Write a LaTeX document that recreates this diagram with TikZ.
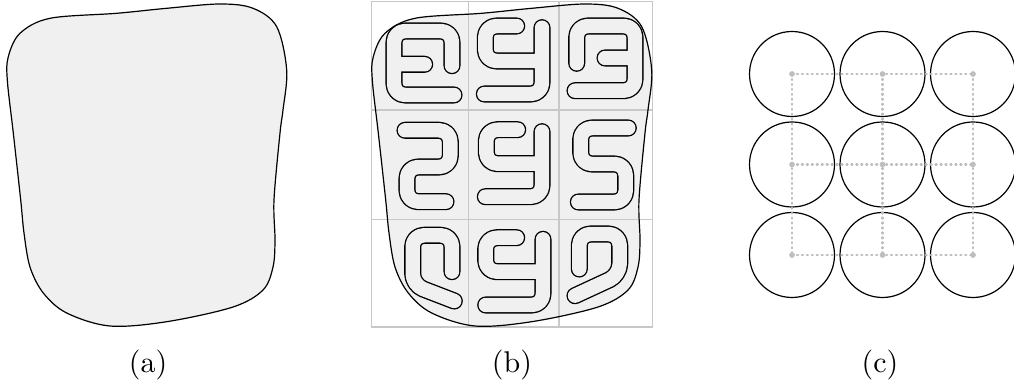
\documentclass[tikz,border=0pt]{standalone}
\usepackage{tikz}
\usetikzlibrary{positioning}
\definecolor{blobgray}{HTML}{F0F0F0}
\definecolor{gridgray}{HTML}{C8C8C8}
\definecolor{dotgray}{HTML}{BEBEBE}
\tikzset{
  blob/.style={draw=black,fill=blobgray,line width=0.4pt},
  blobedge/.style={draw=black,line width=0.4pt},
  gridline/.style={draw=gridgray,line width=0.4pt},
  bandout/.style={draw=black,line width=5.7pt,line cap=round,line join=round,
                  rounded corners=3.7pt},
  bandin/.style={draw=blobgray,line width=4.8pt,line cap=round,line join=round,
                 rounded corners=3.7pt},
  ring/.style={draw=black,circle,line width=0.4pt,minimum size=28.33pt,
               inner sep=0pt},
  dotline/.style={draw=dotgray,line width=0.75pt,line cap=round,
                  dash pattern=on 0.35pt off 1.3pt},
  hub/.style={fill=dotgray,circle,inner sep=0pt,minimum size=1.9pt},
  caption/.style={anchor=base}
}
\newcommand{\blobpath}{plot[smooth cycle,tension=0.55] coordinates {
  (8.3,56.7) (20,33.3) (50,18.3) (116.7,13.3) (166.7,8.3) (220,4)
  (253,8.3) (276.7,26.7) (286.7,70) (283,110) (280,133) (274,200)
  (275,240) (273,267) (263,290) (233,307) (166.7,321.7) (110,326)
  (66.7,313) (43.3,293) (30,267) (24,233) (20.7,200) (13.3,133) (7.3,80)}}
\newcommand{\squig}[1]{\draw[bandout] #1; \draw[bandin] #1;}

\begin{document}
\begin{tikzpicture}[x=0.3333pt,y=-0.3333pt]
  \useasboundingbox (0,0) rectangle (1014,381);

  % (a) the region
  \draw[blob] \blobpath;
  \node[caption] (lbla) at (148,372.5) {(a)};

  % (b) region cut into cells
  \begin{scope}[shift={(365,0)}]
    \fill[blobgray] \blobpath;
  \end{scope}
  \draw[gridline] (371.7,1.7) rectangle (652.5,327);
  \foreach \gx in {468.5,559}
    \draw[gridline] (\gx,1.7) -- (\gx,327);
  \foreach \gy in {110,219.3}
    \draw[gridline] (371.7,\gy) -- (652.5,\gy);
  \begin{scope}[shift={(365,0)}]
    \draw[blobedge] \blobpath;
  \end{scope}

  \squig{(452,65.7) -- (452,31) -- (394,31) -- (394,95) -- (454,95)
         (394,64.3) -- (424.7,64.3)}
  \squig{(516.7,26) -- (485.3,26) -- (485.3,61) -- (542,61)
         (542,27.7) -- (542,94) -- (484.3,94)}
  \squig{(576.7,63.3) -- (576.7,26) -- (635,26) -- (635,90.7) -- (575,90.7)
         (635,58) -- (605,58)}
  \squig{(405,130.3) -- (450.3,130.3) -- (450.3,167) -- (407,167)
         -- (407,201.7) -- (446,201.7)}
  \squig{(517.7,129.7) -- (486.3,129.7) -- (486.3,163.7) -- (542,163.7)
         (542,131.7) -- (542,196.7) -- (485.3,196.7)}
  \squig{(628.3,128) -- (580.7,128) -- (580.7,164) -- (625.7,164)
         -- (625.7,202) -- (578.3,202)}
  \squig{(452,271.7) -- (452,235.3) -- (412.7,235.3) -- (412.7,285)
         -- (454.3,301)}
  \squig{(516.7,237.7) -- (485.7,237.7) -- (485.7,271.7) -- (543,271.7)
         (543,239.3) -- (543,305) -- (485.7,305)}
  \squig{(579.3,269) -- (579.3,234) -- (619.7,234) -- (619.7,275)
         -- (575,295.7)}
  \node[caption] (lblb) at (512,372.5) {(b)};

  % (c) one disc per cell
  \foreach \r in {1,2,3}
    \foreach \c in {1,2,3}
      \node[ring] (c\r\c) at ({792+90.5*(\c-1)},{74+90.5*(\r-1)}) {};
  \foreach \k in {1,2,3} {
    \draw[dotline] (c\k1.center) -- (c\k3.center);
    \draw[dotline] (c1\k.center) -- (c3\k.center);
  }
  \foreach \r in {1,2,3}
    \foreach \c in {1,2,3}
      \node[hub] at (c\r\c.center) {};
  \node[caption] (lblc) at (880,372.5) {(c)};
\end{tikzpicture}
\end{document}
